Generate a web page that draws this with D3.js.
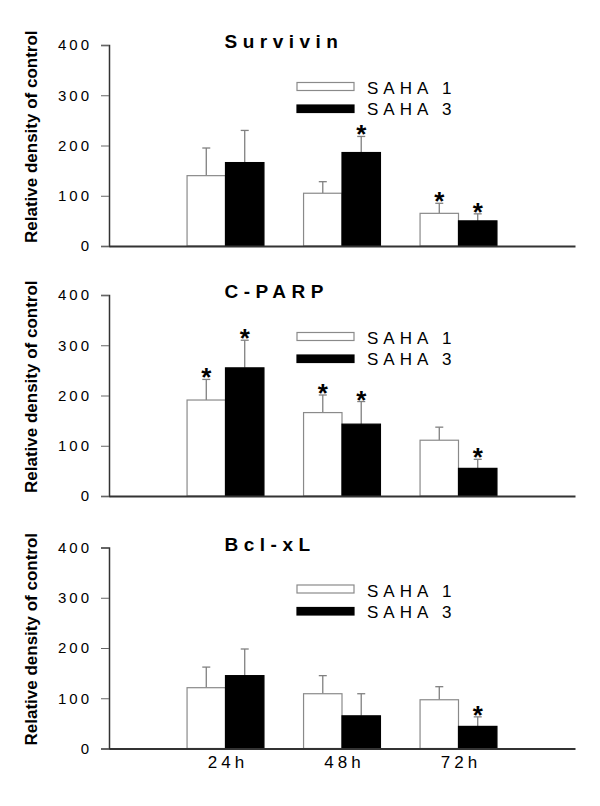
<!DOCTYPE html>
<html><head><meta charset="utf-8">
<script src="https://cdn.jsdelivr.net/npm/d3@7/dist/d3.min.js"></script>
<style>body{margin:0;background:#fff}svg{display:block}</style>
</head><body>
<svg id="chart" width="600" height="806"></svg>
<script>
const categories = ["24h", "48h", "72h"];
const seriesNames = ["SAHA 1", "SAHA 3"];
const yTicks = [0, 100, 200, 300, 400];
const panelTitles = ["Survivin", "C-PARP", "Bcl-xL"];

const survivin1 = [140, 105, 65];
const survivin1Err = [55, 23, 20];
const survivin1Sig = [false, false, true];
const survivin3 = [166, 186, 50];
const survivin3Err = [64, 32, 14];
const survivin3Sig = [false, true, true];

const parp1 = [191, 166, 111];
const parp1Err = [41, 35, 26];
const parp1Sig = [true, true, false];
const parp3 = [255, 143, 55];
const parp3Err = [55, 45, 18];
const parp3Sig = [true, true, true];

const bcl1 = [121, 109, 97];
const bcl1Err = [41, 36, 26];
const bcl1Sig = [false, false, false];
const bcl3 = [145, 65, 44];
const bcl3Err = [53, 44, 19];
const bcl3Sig = [false, false, true];

const panels = [
  {title: panelTitles[0], s: [[survivin1, survivin1Err, survivin1Sig], [survivin3, survivin3Err, survivin3Sig]]},
  {title: panelTitles[1], s: [[parp1, parp1Err, parp1Sig], [parp3, parp3Err, parp3Sig]]},
  {title: panelTitles[2], s: [[bcl1, bcl1Err, bcl1Sig], [bcl3, bcl3Err, bcl3Sig]]}
];

const svg = d3.select("#chart");
const panelTops = [45, 295, 547.5];
const plotH = 201;
const x0 = 109, x1 = 575;
const x = d3.scalePoint().domain(["_a", ...categories, "_b"]).range([x0, x1]);
const barW = x.step() * 0.33;
const fills = ["#fff", "#000"];
const font = "'Liberation Sans', Arial, sans-serif";

panels.forEach((p, pi) => {
  const top = panelTops[pi];
  const g = svg.append("g").attr("transform", `translate(0,${top})`);
  const y = d3.scaleLinear().domain([0, 400]).range([plotH, 0]);

  // y label
  g.append("text")
    .attr("transform", "rotate(-90)")
    .attr("x", -(plotH - 3)).attr("y", 37)
    .attr("text-anchor", "start")
    .attr("font-family", font).attr("font-weight", "bold").attr("font-size", 17)
    .attr("fill", "#000")
    .text("Relative density of control");

  // bars
  p.s.forEach((ser, si) => {
    const [vals, errs, sigs] = ser;
    categories.forEach((c, ci) => {
      const bx = x(c) + (si === 0 ? -barW : 0);
      const cx = bx + barW / 2;
      g.append("line").attr("x1", cx).attr("x2", cx)
        .attr("y1", y(vals[ci])).attr("y2", y(vals[ci] + errs[ci]))
        .attr("stroke", "#808080").attr("stroke-width", 1.3);
      g.append("line").attr("x1", cx - 4).attr("x2", cx + 4)
        .attr("y1", y(vals[ci] + errs[ci])).attr("y2", y(vals[ci] + errs[ci]))
        .attr("stroke", "#808080").attr("stroke-width", 1.3);
      g.append("rect").attr("x", bx).attr("y", y(vals[ci]))
        .attr("width", barW).attr("height", y(0) - y(vals[ci]))
        .attr("fill", fills[si])
        .attr("stroke", si === 0 ? "#8a8a8a" : "#000").attr("stroke-width", 1.2);
      if (sigs[ci]) {
        g.append("text").attr("x", cx).attr("y", y(vals[ci] + errs[ci]) + 7)
          .attr("text-anchor", "middle")
          .attr("font-family", font).attr("font-weight", "bold").attr("font-size", 26)
          .text("*");
      }
    });
  });

  // y axis
  const ya = g.append("g").attr("transform", `translate(${x0},0)`)
    .call(d3.axisLeft(y).tickValues(yTicks).tickSize(8).tickPadding(9));
  ya.select(".domain").attr("stroke", "#333").attr("stroke-width", 1.5);
  ya.selectAll(".tick line").attr("stroke", "#666").attr("stroke-width", 1);
  ya.selectAll(".tick text").attr("font-family", font).attr("font-size", 15)
    .attr("letter-spacing", "3px").attr("fill", "#000");

  // x axis
  const xa = g.append("g").attr("transform", `translate(0,${plotH})`)
    .call(d3.axisBottom(x).tickValues(pi === 2 ? categories : []).tickSize(0).tickPadding(7).tickSizeOuter(0));
  xa.select(".domain").attr("stroke", "#333").attr("stroke-width", 1.8);
  xa.selectAll(".tick text").attr("font-family", font).attr("font-size", 17)
    .attr("letter-spacing", "4px").attr("dx", 2).attr("fill", "#000");

  // title
  g.append("text").attr("x", x("24h") - 1).attr("y", 3)
    .attr("font-family", font).attr("font-weight", "bold").attr("font-size", 19)
    .attr("letter-spacing", "5.5px").text(p.title);

  // legend
  const lg = g.append("g");
  seriesNames.forEach((n, si) => {
    lg.append("rect").attr("x", 297).attr("y", si === 0 ? 37.5 : 60)
      .attr("width", 57).attr("height", si === 0 ? 8 : 7.5)
      .attr("fill", fills[si]).attr("stroke", si === 0 ? "#8a8a8a" : "#000").attr("stroke-width", 1.2);
    lg.append("text").attr("x", 367).attr("y", si === 0 ? 49 : 70)
      .attr("font-family", font).attr("font-size", 17).attr("letter-spacing", "5px")
      .attr("fill", "#000").text(n);
  });
});
</script>
</body></html>
